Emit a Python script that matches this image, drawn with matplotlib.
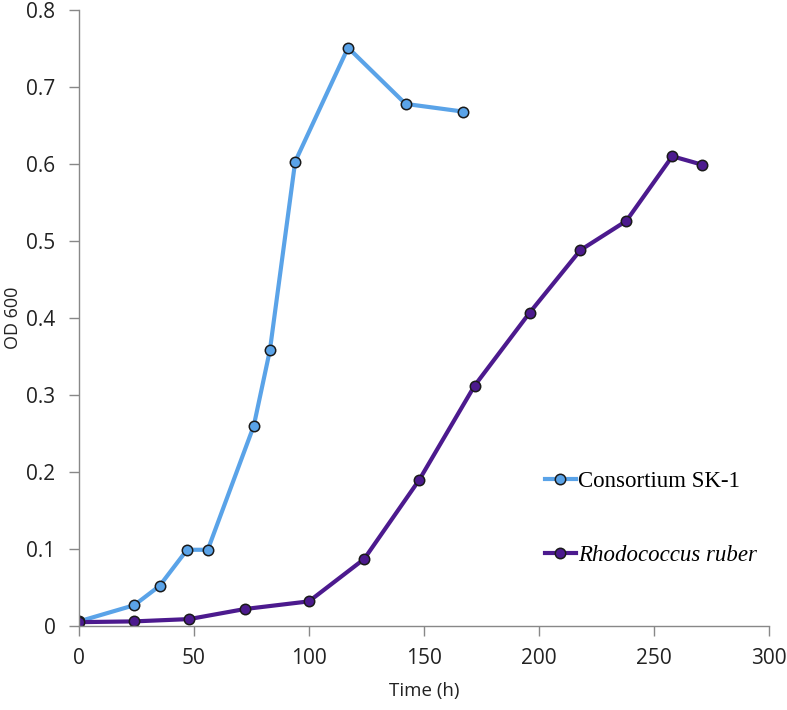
import matplotlib
matplotlib.use('Agg')
import matplotlib.pyplot as plt

# Data
t_sk1 = [0, 24, 35, 47, 56, 76, 83, 94, 117, 142, 167]
od_sk1 = [0.006, 0.027, 0.052, 0.099, 0.099, 0.26, 0.358, 0.603, 0.751, 0.678, 0.668]

t_rr = [0, 24, 48, 72, 100, 124, 148, 172, 196, 218, 238, 258, 271]
od_rr = [0.005, 0.006, 0.009, 0.022, 0.032, 0.087, 0.19, 0.312, 0.407, 0.488, 0.526, 0.610, 0.599]

xticks = [0, 50, 100, 150, 200, 250, 300]
yticks = [0, 0.1, 0.2, 0.3, 0.4, 0.5, 0.6, 0.7, 0.8]
ytick_labels = ['0', '0.1', '0.2', '0.3', '0.4', '0.5', '0.6', '0.7', '0.8']

blue = '#5aa3e8'
purple = '#4c1a8e'

plt.rcParams['font.family'] = ['Open Sans', 'DejaVu Sans']

fig = plt.figure(figsize=(7.87, 7.10), dpi=100)
ax = fig.add_axes([0.1004, 0.1183, 0.8766, 0.8677])

ax.plot(t_sk1, od_sk1, color=blue, lw=3, marker='o', ms=7.5,
        mfc=blue, mec='#1a1a1a', mew=1.1, label='Consortium SK-1')
ax.plot(t_rr, od_rr, color=purple, lw=3, marker='o', ms=7.5,
        mfc=purple, mec='#1a1a1a', mew=1.1, label='Rhodococcus ruber')

ax.set_xlim(0, 300)
ax.set_ylim(0, 0.8)
ax.set_xticks(xticks)
ax.set_yticks(yticks)
ax.set_yticklabels(ytick_labels)

for s in ['top', 'right']:
    ax.spines[s].set_visible(False)
for s in ['left', 'bottom']:
    ax.spines[s].set_color('#888888')
    ax.spines[s].set_linewidth(1.0)
ax.tick_params(direction='out', length=7, width=1, color='#888888',
               labelsize=15, labelcolor='#222222')
ax.tick_params(axis='x', pad=9)
ax.tick_params(axis='y', pad=10)

ax.set_xlabel('Time (h)', fontsize=13.5, color='#222222', labelpad=9)
ax.set_ylabel('OD 600', fontsize=13, color='#222222', labelpad=3)

leg = ax.legend(loc='center left', bbox_to_anchor=(0.645, 0.175), frameon=False,
                prop={'family': 'Liberation Serif', 'size': 16.5},
                handlelength=1.35, handletextpad=0.1, labelspacing=2.3)
leg.get_texts()[1].set_fontstyle('italic')

fig.savefig('out.png', dpi=100)
